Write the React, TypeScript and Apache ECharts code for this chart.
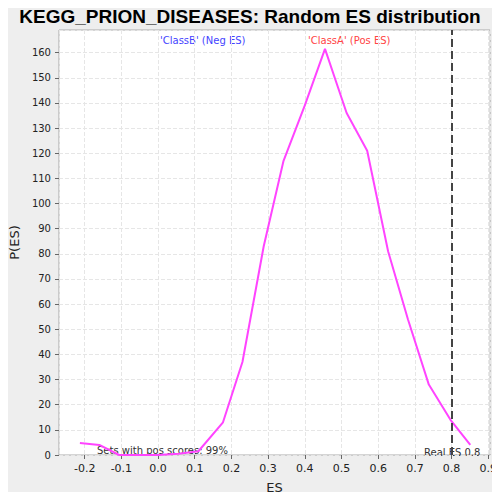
import { useEffect, useRef } from 'react';
import * as echarts from 'echarts';

const esValues = [-0.213, -0.16, -0.106, -0.05, 0.0, 0.056, 0.11, 0.177, 0.23, 0.288, 0.342, 0.4, 0.455, 0.514, 0.57, 0.627, 0.681, 0.738, 0.797, 0.851];
const pValues = [4.8, 4, 0, 0, 0, 0.5, 1.5, 13, 37, 83, 117, 139, 161.5, 136, 121, 81, 54, 28, 14, 4];
const realEs = 0.8;

export default function App() {
  const ref = useRef<HTMLDivElement>(null);

  useEffect(() => {
    if (!ref.current) return;
    const chart = echarts.init(ref.current, null, { renderer: 'svg' });
    const font = 'DejaVu Sans, sans-serif';
    chart.setOption({
      animation: false,
      backgroundColor: '#eeeeee',
      title: {
        text: 'KEGG_PRION_DISEASES: Random ES distribution',
        left: 'center',
        top: 2,
        textStyle: { fontSize: 19, fontWeight: 'bold', fontFamily: 'Liberation Sans, Arial, sans-serif', color: '#000' },
      },
      grid: { left: 56, right: 8, top: 30, bottom: 45, show: true, backgroundColor: '#fff', borderColor: '#aaa', borderWidth: 1 },
      xAxis: {
        type: 'value',
        min: -0.27,
        max: 0.905,
        splitNumber: 12,
        name: 'ES',
        nameLocation: 'middle',
        nameGap: 26,
        nameTextStyle: { fontSize: 13, fontFamily: font, color: '#222' },
        axisLine: { show: false, onZero: false },
        axisTick: { show: true, length: 4, lineStyle: { color: '#666' } },
        axisLabel: { fontSize: 11, fontFamily: font, color: '#222', showMinLabel: false, showMaxLabel: false, formatter: (v: number) => v.toFixed(1) },
        splitLine: { show: true, lineStyle: { color: '#e6e6e6', type: 'dashed' } },
      },
      yAxis: {
        type: 'value',
        min: 0,
        max: 169,
        interval: 10,
        name: 'P(ES)',
        nameLocation: 'middle',
        nameGap: 36,
        nameTextStyle: { fontSize: 13, fontFamily: font, color: '#222' },
        axisLine: { show: false, onZero: false },
        axisTick: { show: true, length: 4, lineStyle: { color: '#666' } },
        axisLabel: { fontSize: 10, fontFamily: font, color: '#222', showMaxLabel: false },
        splitLine: { show: true, lineStyle: { color: '#e6e6e6', type: 'dashed' } },
      },
      series: [
        {
          type: 'line',
          data: esValues.map((x, i) => [x, pValues[i]]),
          symbol: 'none',
          lineStyle: { color: '#ff44ff', width: 2 },
          markLine: {
            silent: true,
            symbol: 'none',
            label: { show: false },
            lineStyle: { color: '#444', type: 'dashed', width: 2 },
            data: [{ xAxis: realEs }],
          },
        },
      ],
      graphic: [
        { type: 'text', left: 160, top: 35, style: { text: "'ClassB' (Neg ES)", fill: '#4444ff', font: `10px ${font}` } },
        { type: 'text', left: 308, top: 35, style: { text: "'ClassA' (Pos ES)", fill: '#ff4444', font: `10px ${font}` } },
        { type: 'text', left: 97, top: 445, style: { text: 'Sets with pos scores: 99%', fill: '#333', font: `10px ${font}` } },
        { type: 'text', left: 424, top: 447, style: { text: 'Real ES 0.8', fill: '#333', font: `10px ${font}` } },
      ],
    });
    return () => chart.dispose();
  }, []);

  return <div ref={ref} style={{ width: 500, height: 500, margin: -8 }} />;
}
